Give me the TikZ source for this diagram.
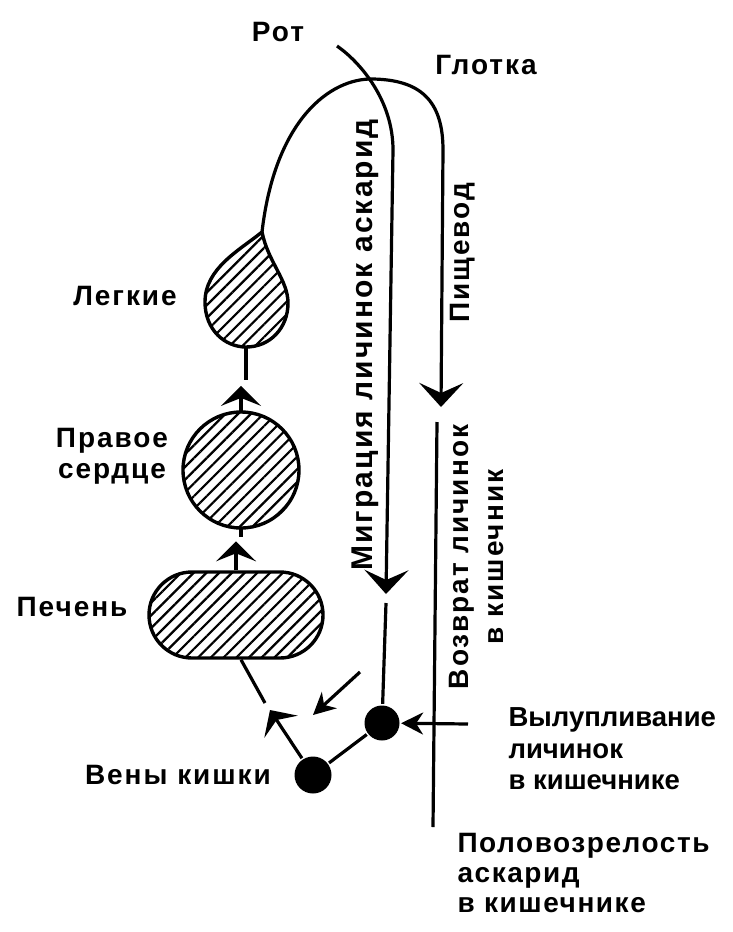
\documentclass[tikz,border=0pt]{standalone}
\usepackage{fontspec}
\setmainfont{Liberation Sans}[LetterSpace=7]
\newfontfamily\hatchfont{Liberation Sans}
\newfontfamily\maturefont{Liberation Sans}[LetterSpace=5.5]
\usetikzlibrary{arrows.meta,shapes.misc,patterns.meta}

\tikzset{
  organ/.style={draw, line width=3.4pt, inner sep=0pt,
    pattern={Lines[angle=45,distance=9pt,line width=2.2pt]}},
  bigarr/.style={-{Stealth[length=24pt,width=44pt,inset=10pt]}},
  midarr/.style={-{Stealth[length=20pt,width=40pt,inset=8pt]}},
  smallarr/.style={-{Stealth[length=22pt,width=22pt,inset=7pt]}},
  ball/.style={circle, fill, inner sep=0pt, minimum size=37pt},
  lbl/.style={font=\bfseries\fontsize{28}{31}\selectfont, inner sep=0pt},
}

\begin{document}
\begin{tikzpicture}[x=1pt, y=-1pt, line width=3.2pt]
    \useasboundingbox (0,0) rectangle (732,932);

    % organs
    \node[organ, circle, minimum size=116pt] (heart) at (241,470) {};
    \node[organ, rounded rectangle, minimum width=174pt, minimum height=86pt] (liver) at (236,615) {};
    \coordinate (lungtip) at (262,232);
    \coordinate (lungbot) at (246,347);
    \draw[organ] (lungtip) .. controls (240,250) and (205,268) .. (205,302)
        .. controls (205,330) and (225,347) .. (lungbot)
        .. controls (270,347) and (288,328) .. (288,303)
        .. controls (288,280) and (268,262) .. (lungtip) -- cycle;

    \node[ball] (veins) at (313,775) {};
    \node[ball, minimum size=35pt] (hatch) at (382,723) {};

    % path of the larvae
    \coordinate (mouth) at (337,46);
    \coordinate (migtip) at (386,594);
    \coordinate (migend) at (386,603);
    \coordinate (esotip) at (441,407);
    \coordinate (backtop) at (437,422);
    \coordinate (backbot) at (433,827);
    \draw[bigarr] (mouth) .. controls (360,62) and (393,100) .. (393,150) -- (migtip);
    \draw[bigarr] (lungtip) .. controls (275,120) and (330,78) .. (373,79)
        .. controls (420,80) and (443,100) .. (443,150) -- (esotip);
    \draw (backtop) -- (backbot);
    \draw (migend) -- (hatch);
    \draw (hatch) -- (veins);

    \coordinate (veintip) at (270,710);
    \coordinate (veingap) at (265,703);
    \draw[midarr] (veins) -- (veintip);
    \draw (veingap) -- ([xshift=5pt]liver.south);
    \draw[midarr] (liver.north) -- ++(0,-29);
    \draw (heart.south) -- ++(0,8);
    \draw[midarr] (heart.north) -- ++(0,-25);
    \draw (lungbot) -- ++(0,33);

    \coordinate (hatchin) at (468,724);
    \draw[smallarr] (hatchin) -- (hatch);
    \coordinate (smallfrom) at (360,672);
    \coordinate (smallto) at (313,715);
    \draw[smallarr] (smallfrom) -- (smallto);

    % labels
    \node[lbl] (rot) at (278,32) {Рот};
    \node[lbl] (glotka) at (486,65) {Глотка};
    \node[lbl] (legkie) at (125,296) {Легкие};
    \node[lbl, align=center] (serdce) at (112,456) {Правое\\сердце};
    \node[lbl] (pechen) at (72,607) {Печень};
    \node[lbl] (veny) at (178,775) {Вены кишки};
    \node[lbl, rotate=90, font=\bfseries\fontsize{30}{33}\selectfont] (migr) at (365,345) {Миграция личинок аскарид};
    \node[lbl, rotate=90] (pish) at (463,253) {Пищевод};
    \node[lbl, rotate=90, align=center, font=\bfseries\fontsize{28}{35}\selectfont] (vozvr) at (476,557) {Возврат личинок\\в кишечник};
    \node[lbl, align=left, anchor=north west, font=\hatchfont\bfseries\fontsize{27.5}{31.5}\selectfont] (vylup) at (507,706) {Вылупливание\\личинок\\в кишечнике};
    \node[lbl, align=left, anchor=north west, font=\maturefont\bfseries\fontsize{28}{30}\selectfont] (polov) at (456,832) {Половозрелость\\аскарид\\в кишечнике};
\end{tikzpicture}
\end{document}
